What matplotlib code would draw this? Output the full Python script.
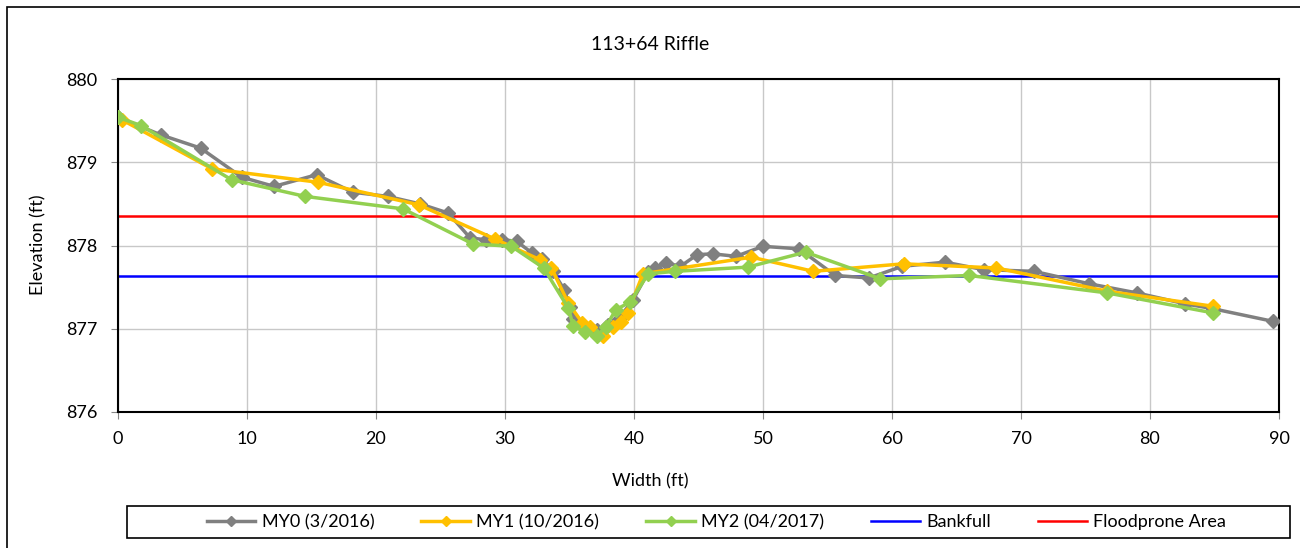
import matplotlib
matplotlib.use("Agg")
import matplotlib.pyplot as plt
import matplotlib.lines as mlines
from matplotlib.patches import Rectangle

plt.rcParams['font.family'] = ['Lato', 'DejaVu Sans']

title = "113+64 Riffle"
xlabel = "Width (ft)"
ylabel = "Elevation (ft)"

my0_x = [0, 3.3, 6.4, 9.6, 12.1, 15.4, 18.2, 20.9, 23.4, 25.6, 27.3, 28.5, 29.8, 30.9,
         32.1, 32.9, 33.7, 34.6, 35.0, 35.3, 36.3, 37.1, 38.0, 38.8, 39.9, 41.1, 41.6,
         42.5, 43.6, 44.9, 46.1, 47.9, 50.0, 52.8, 55.6, 58.2, 60.8, 64.1, 67.1, 71.0,
         75.3, 79.0, 82.7, 84.9, 89.5, 91.0]
my0_y = [879.54, 879.33, 879.17, 878.82, 878.71, 878.85, 878.64, 878.59, 878.50, 878.39,
         878.09, 878.07, 878.07, 878.05, 877.91, 877.84, 877.69, 877.47, 877.26, 877.12,
         877.00, 876.98, 877.05, 877.12, 877.34, 877.68, 877.73, 877.79, 877.75, 877.89,
         877.90, 877.87, 877.99, 877.96, 877.64, 877.61, 877.75, 877.80, 877.71, 877.69,
         877.54, 877.43, 877.30, 877.24, 877.09, 877.05]

my1_x = [0.3, 7.3, 15.5, 23.3, 29.2, 32.7, 33.6, 34.9, 36.0, 36.6, 37.6, 38.4, 39.0,
         39.5, 40.7, 49.1, 53.9, 60.9, 68.1, 76.7, 84.9]
my1_y = [879.51, 878.92, 878.76, 878.49, 878.08, 877.83, 877.73, 877.31, 877.07, 877.02,
         876.91, 877.02, 877.08, 877.19, 877.66, 877.86, 877.69, 877.78, 877.73, 877.45,
         877.27]

my2_x = [0, 1.8, 8.8, 14.5, 22.1, 27.5, 30.5, 33.0, 34.9, 35.3, 36.2, 37.1, 37.8, 38.6,
         39.7, 41.1, 43.2, 48.8, 53.3, 59.1, 66.0, 76.7, 84.9]
my2_y = [879.54, 879.44, 878.79, 878.59, 878.44, 878.02, 877.99, 877.73, 877.25, 877.03,
         876.96, 876.91, 877.02, 877.23, 877.32, 877.66, 877.69, 877.74, 877.92, 877.60,
         877.64, 877.43, 877.19]

bankfull = 877.63
floodprone = 878.35

series_labels = ["MY0 (3/2016)", "MY1 (10/2016)", "MY2 (04/2017)", "Bankfull", "Floodprone Area"]
series_colors = ['#808080', '#FFC000', '#92D050', '#0000FF', '#FF0000']

fig = plt.figure(figsize=(13, 5.48), dpi=100)
ax = fig.add_axes([118/1300, 1-412/548, (1279-118)/1300, (412-79)/548])

ax.axhline(bankfull, color=series_colors[3], lw=1.8, zorder=2)
ax.axhline(floodprone, color=series_colors[4], lw=1.8, zorder=2)
ax.plot(my0_x, my0_y, color=series_colors[0], lw=2.5, marker='D', ms=7, zorder=3)
ax.plot(my1_x, my1_y, color=series_colors[1], lw=2.5, marker='D', ms=7, zorder=4)
ax.plot(my2_x, my2_y, color=series_colors[2], lw=2.5, marker='D', ms=7, zorder=5)

ax.set_xlim(0, 90)
ax.set_ylim(876, 880)
ax.set_xticks(range(0, 91, 10))
ax.set_yticks([876, 877, 878, 879, 880])
ax.grid(True, color='#C8C8C8', lw=1)
ax.set_axisbelow(True)
for s in ax.spines.values():
    s.set_color('black')
    s.set_linewidth(1.5)
ax.tick_params(axis='both', labelsize=13, length=5, color='#888888')
ax.tick_params(axis='y', pad=10)
ax.tick_params(axis='x', pad=9)

fig.text(0.5, 1-45/548, title, ha='center', va='center', fontsize=14)
fig.text(0.5, 1-481/548, xlabel, ha='center', va='center', fontsize=13)
fig.text(38/1300, 1-245/548, ylabel, ha='center', va='center', rotation=90, fontsize=13)

leg_h = [
    mlines.Line2D([], [], color=series_colors[0], lw=2.5, marker='D', ms=5),
    mlines.Line2D([], [], color=series_colors[1], lw=2.5, marker='D', ms=5),
    mlines.Line2D([], [], color=series_colors[2], lw=2.5, marker='D', ms=5),
    mlines.Line2D([], [], color=series_colors[3], lw=1.8),
    mlines.Line2D([], [], color=series_colors[4], lw=1.8),
]
lx0, lx1, ly0, ly1 = 127/1300, 1290/1300, 1-538/548, 1-506/548
leg = fig.legend(leg_h, series_labels, loc='center', ncol=5,
                 bbox_to_anchor=((lx0+lx1)/2 + 0.006, (ly0+ly1)/2),
                 fontsize=13, frameon=False, handlelength=2.7, handletextpad=0.35,
                 columnspacing=2.6, borderaxespad=0, borderpad=0)
fig.patches.append(Rectangle((lx0, ly0), lx1-lx0, ly1-ly0, transform=fig.transFigure,
                             fill=False, edgecolor='black', lw=1.2))

fig.patches.append(Rectangle((7/1300, -0.1), 1.2, 1-7/548+0.1, transform=fig.transFigure,
                             fill=False, edgecolor='black', lw=1.2))

fig.savefig("out.png", dpi=100)
